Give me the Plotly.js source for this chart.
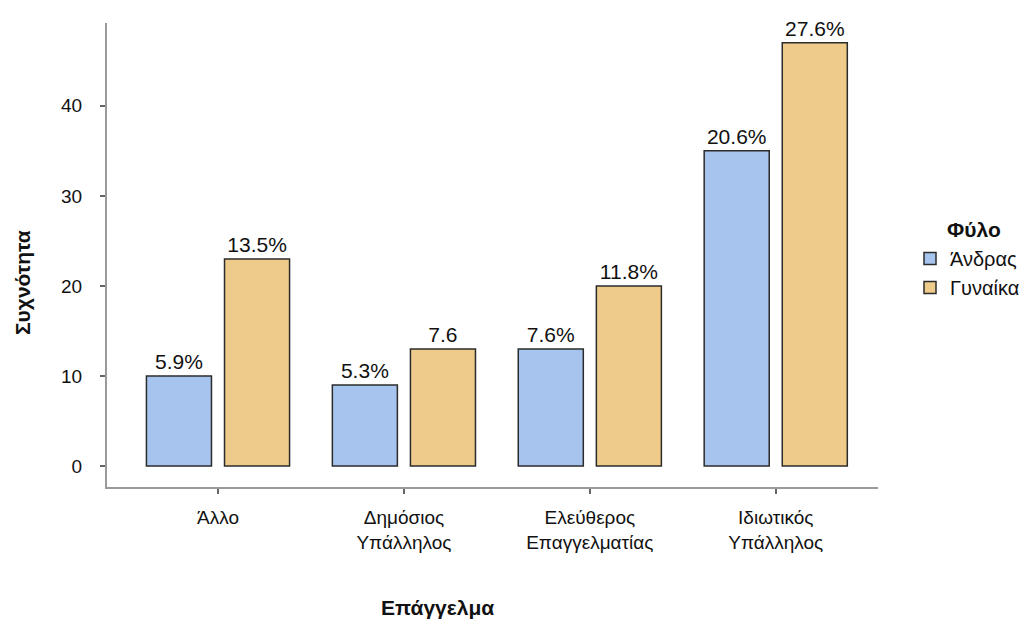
<!DOCTYPE html>
<html>
<head>
<meta charset="utf-8">
<script src="https://cdn.plot.ly/plotly-3.0.1.min.js"></script>
<style>html,body{margin:0;padding:0;background:#fff;}#chart{width:1031px;height:620px;}</style>
</head>
<body>
<div id="chart"></div>
<script>
const categories = ["Άλλο", "Δημόσιος<br>Υπάλληλος", "Ελεύθερος<br>Επαγγελματίας", "Ιδιωτικός<br>Υπάλληλος"];
const menValues = [10, 9, 13, 35];
const womenValues = [23, 13, 20, 47];
const menLabels = ["5.9%", "5.3%", "7.6%", "20.6%"];
const womenLabels = ["13.5%", "7.6", "11.8%", "27.6%"];
const seriesNames = ["Άνδρας", "Γυναίκα"];
const legendTitle = "Φύλο";
const yTicks = [0, 10, 20, 30, 40];

const FONT = "Liberation Sans, Arial, sans-serif";
const textFont = {family: FONT, size: 21, color: "#111"};

const traces = [
  {type: "bar", name: seriesNames[0], x: categories, y: menValues, text: menLabels,
   textposition: "outside", textfont: textFont, cliponaxis: false,
   marker: {color: "#a7c4ef", line: {color: "#2b2b2b", width: 1.5}}, hoverinfo: "none"},
  {type: "bar", name: seriesNames[1], x: categories, y: womenValues, text: womenLabels,
   textposition: "outside", textfont: textFont, cliponaxis: false,
   marker: {color: "#eecb8b", line: {color: "#2b2b2b", width: 1.5}}, hoverinfo: "none"}
];

const layout = {
  width: 1031, height: 620,
  margin: {l: 107, r: 153, t: 23, b: 133, pad: 0, autoexpand: false},
  paper_bgcolor: "#fff", plot_bgcolor: "#fff",
  font: {family: FONT, color: "#111"},
  barmode: "group", bargap: 0.16, bargroupgap: 0.167,
  xaxis: {
    type: "category", range: [-0.597, 3.55], fixedrange: true,
    showline: true, linecolor: "#9a9a9a", linewidth: 2,
    ticks: "outside", ticklen: 5, tickwidth: 2, tickcolor: "#666",
    showgrid: false, zeroline: false, automargin: false,
    tickfont: {family: FONT, size: 19, color: "#111"}, ticklabelstandoff: 7
  },
  yaxis: {
    range: [-2.33, 49.2], fixedrange: true,
    tickvals: yTicks, ticktext: yTicks.map(String),
    showline: true, linecolor: "#9a9a9a", linewidth: 2,
    ticks: "outside", ticklen: 5, tickwidth: 2, tickcolor: "#666",
    showgrid: false, zeroline: false, automargin: false,
    tickfont: {family: FONT, size: 19, color: "#111"}, ticklabelstandoff: 14
  },
  legend: {
    xref: "container", yref: "container",
    x: 910 / 1031, xanchor: "left", y: 1 - 239 / 620, yanchor: "top",
    font: {family: FONT, size: 20, color: "#111"},
    bgcolor: "rgba(0,0,0,0)", tracegroupgap: 0
  },
  annotations: [
    {text: "<b>" + legendTitle + "</b>", xref: "paper", yref: "paper", x: (945 - 107) / 771, y: (487 - 229) / 464,
     xanchor: "left", yanchor: "middle", showarrow: false, font: {family: FONT, size: 21, color: "#111"}},
    {text: "<b>Επάγγελμα</b>", xref: "paper", yref: "paper", x: (437 - 107) / 771, y: (487 - 607) / 464,
     xanchor: "center", yanchor: "middle", showarrow: false, font: {family: FONT, size: 21, color: "#111"}},
    {text: "<b>Συχνότητα</b>", xref: "paper", yref: "paper", x: (22 - 107) / 771, y: (487 - 283) / 464,
     xanchor: "center", yanchor: "middle", textangle: -90, showarrow: false, font: {family: FONT, size: 21, color: "#111"}}
  ],
  showlegend: true
};

Plotly.newPlot("chart", traces, layout, {displayModeBar: false, staticPlot: true});
</script>
</body>
</html>
